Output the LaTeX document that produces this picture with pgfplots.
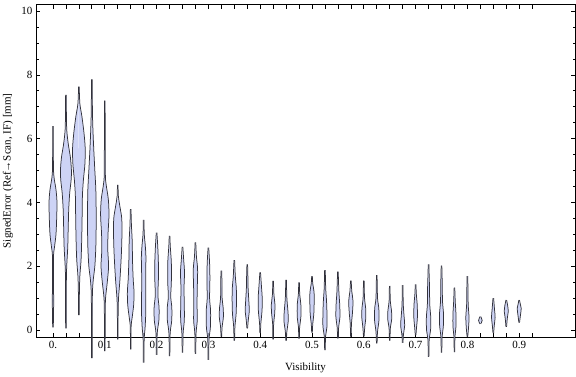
\documentclass[border=0pt]{standalone}
\usepackage{fontspec}
\setmainfont{Liberation Serif}
\usepackage{pgfplots}
\pgfplotsset{compat=1.18}
\usepgfplotslibrary{fillbetween}
\definecolor{vfillc}{RGB}{205,211,245}
\definecolor{voutc}{RGB}{50,50,60}
\pgfplotsset{
  vout/.style={draw=voutc, line width=0.75bp, smooth, tension=0.5, no markers, forget plot},
  vfill/.style={fill=vfillc, draw=none, forget plot},
}
\newcommand\violin[2]{%
  \addplot[vout, name path=R#1] table[row sep=\\, x expr={#1+\thisrow{w}}, y=y] {y w\\#2};
  \addplot[vout, name path=L#1] table[row sep=\\, x expr={#1-\thisrow{w}}, y=y] {y w\\#2};
  \addplot[vfill] fill between[of=R#1 and L#1];
}
\begin{document}
\begin{tikzpicture}[font=\fontsize{11bp}{13bp}\selectfont]
\begin{axis}[name=ax, set layers, scale only axis,
  width=539bp, height=332.3bp,
  xmin=-0.0328, xmax=1.0077, ymin=-0.219, ymax=10.2,
  clip=false,
  axis line style={line width=0.8bp, black},
  tick style={black, line width=0.7bp},
  major tick length=4.2bp, minor tick length=2.5bp,
  tick align=inside,
  xtick={0,0.025,0.05,0.075,0.1,0.125,0.15,0.175,0.2,0.225,0.25,0.275,0.3,0.325,0.35,0.375,0.4,0.425,0.45,0.475,0.5,0.525,0.55,0.575,0.6,0.625,0.65,0.675,0.7,0.725,0.75,0.775,0.8,0.825,0.85,0.875,0.9,0.925},
  xticklabels={0.,{},{},{},0.1,{},{},{},0.2,{},{},{},0.3,{},{},{},0.4,{},{},{},0.5,{},{},{},0.6,{},{},{},0.7,{},{},{},0.8,{},{},{},0.9,{}},
  xticklabel style={yshift=-1bp},
  ytick={0,2,4,6,8,10},
  minor y tick num=3,
  /pgf/number format/assume math mode=true,
  xlabel={Visibility},
  ylabel={SignedError (Ref→Scan, IF) [mm]},
  every axis x label/.style={at={(axis description cs:0.5,-0.0933)}, anchor=center},
  every axis y label/.style={at={(axis description cs:-0.052,0.5)}, anchor=center, rotate=90},
]
\violin{0}{0.08 0.0006\\0.7 0.0012\\0.95 0.0015\\1.3 0.001\\2.3 0.001\\2.6 0.0029\\3.0 0.0058\\3.5 0.0071\\4.0 0.0077\\4.4 0.0058\\4.8 0.0019\\5.2 0.0008\\6.39 0.0006\\}
\violin{0.025}{0.05 0.0006\\1.5 0.0008\\2.0 0.0015\\2.6 0.0035\\3.2 0.0044\\3.8 0.0054\\4.3 0.0073\\4.7 0.010\\5.0 0.0106\\5.4 0.0087\\5.8 0.0048\\6.2 0.0019\\6.6 0.001\\7.37 0.0006\\}
\violin{0.05}{0.47 0.0006\\1.2 0.001\\1.7 0.0019\\2.2 0.0042\\2.8 0.0054\\3.5 0.0062\\4.2 0.0068\\4.7 0.0087\\5.2 0.0116\\5.7 0.0122\\6.2 0.0097\\6.7 0.0058\\7.1 0.0019\\7.63 0.0006\\}
\violin{0.075}{-0.88 0.0006\\0.5 0.0008\\1.2 0.0012\\1.6 0.0029\\2.0 0.0058\\2.6 0.0077\\3.2 0.0083\\3.8 0.0083\\4.4 0.0077\\5.0 0.0058\\5.6 0.0039\\6.2 0.0023\\6.8 0.0012\\7.86 0.0006\\}
\violin{0.1}{-0.66 0.0006\\0.5 0.0008\\1.0 0.0015\\1.5 0.0048\\2.0 0.0073\\2.5 0.0058\\3.0 0.0062\\3.6 0.0081\\4.1 0.0068\\4.6 0.0023\\5.0 0.001\\7.19 0.0006\\}
\violin{0.125}{-0.29 0.0006\\0.6 0.0008\\1.0 0.0015\\1.5 0.0039\\2.0 0.0058\\2.5 0.0073\\3.0 0.0081\\3.5 0.0077\\3.9 0.0039\\4.2 0.0012\\4.55 0.0006\\}
\violin{0.15}{-0.61 0.0006\\0.1 0.0008\\0.4 0.0029\\0.8 0.0058\\1.2 0.0064\\1.6 0.0048\\2.2 0.0035\\2.8 0.0029\\3.3 0.0014\\3.79 0.0006\\}
\violin{0.175}{-1.02 0.0006\\-0.3 0.001\\0.1 0.0029\\0.6 0.0042\\1.2 0.0039\\1.8 0.0039\\2.3 0.0044\\2.7 0.0029\\3.0 0.0012\\3.45 0.0006\\}
\violin{0.2}{-0.78 0.0006\\-0.1 0.0012\\0.3 0.0044\\0.7 0.0048\\1.1 0.0025\\1.6 0.0035\\2.1 0.0035\\2.6 0.0023\\3.05 0.0006\\}
\violin{0.225}{-0.82 0.0006\\-0.1 0.0012\\0.3 0.0042\\0.7 0.0044\\1.05 0.0023\\1.5 0.0035\\2.1 0.0035\\2.6 0.0015\\2.95 0.0006\\}
\violin{0.25}{-0.71 0.0006\\-0.1 0.0012\\0.3 0.0035\\0.8 0.0035\\1.3 0.0029\\1.8 0.0039\\2.2 0.0023\\2.61 0.0006\\}
\violin{0.275}{-0.75 0.0006\\-0.1 0.0012\\0.3 0.0035\\0.8 0.0031\\1.3 0.0035\\1.9 0.0042\\2.3 0.0019\\2.75 0.0006\\}
\violin{0.3}{-0.94 0.0006\\-0.3 0.0012\\0.1 0.0039\\0.6 0.0042\\1.0 0.0023\\1.6 0.0029\\2.1 0.0023\\2.58 0.0006\\}
\violin{0.325}{-0.21 0.0006\\0.1 0.0015\\0.4 0.0039\\0.7 0.0035\\1.0 0.0015\\1.5 0.0012\\1.86 0.0006\\}
\violin{0.35}{-0.33 0.0006\\0.1 0.0012\\0.5 0.0035\\0.9 0.0042\\1.3 0.0039\\1.7 0.0019\\2.19 0.0006\\}
\violin{0.375}{0.05 0.0006\\0.3 0.0019\\0.6 0.0039\\0.9 0.0031\\1.3 0.0017\\1.7 0.0012\\2.06 0.0006\\}
\violin{0.4}{-0.1 0.0006\\0.2 0.0012\\0.6 0.0035\\1.0 0.0039\\1.4 0.0023\\1.81 0.0006\\}
\violin{0.425}{-0.29 0.0006\\0.2 0.001\\0.5 0.0029\\0.8 0.0035\\1.1 0.0015\\1.54 0.0006\\}
\violin{0.45}{-0.33 0.0006\\-0.05 0.0015\\0.3 0.0042\\0.6 0.0035\\1.0 0.0015\\1.57 0.0006\\}
\violin{0.475}{-0.27 0.0006\\0.1 0.0012\\0.4 0.0035\\0.8 0.0035\\1.1 0.0014\\1.49 0.0006\\}
\violin{0.5}{-0.08 0.0006\\0.2 0.0015\\0.5 0.0035\\0.9 0.0042\\1.2 0.0039\\1.45 0.0015\\1.69 0.0006\\}
\violin{0.525}{-0.63 0.0006\\-0.2 0.0012\\0.1 0.0039\\0.5 0.0039\\0.9 0.0031\\1.3 0.0015\\1.88 0.0006\\}
\violin{0.55}{-0.26 0.0006\\0.1 0.0015\\0.4 0.0039\\0.8 0.0035\\1.2 0.0019\\1.83 0.0006\\}
\violin{0.575}{-0.21 0.0006\\0.2 0.0012\\0.5 0.0029\\0.9 0.0042\\1.2 0.0019\\1.55 0.0006\\}
\violin{0.6}{-0.2 0.0006\\0.1 0.0019\\0.4 0.0039\\0.7 0.0035\\1.0 0.0014\\1.55 0.0006\\}
\violin{0.625}{-0.42 0.0006\\-0.05 0.0015\\0.3 0.0042\\0.7 0.0039\\1.0 0.0015\\1.72 0.0006\\}
\violin{0.65}{-0.33 0.0006\\0.05 0.0012\\0.35 0.0039\\0.6 0.0035\\0.9 0.0012\\1.38 0.0006\\}
\violin{0.675}{-0.4 0.0006\\-0.15 0.0015\\0.15 0.0039\\0.4 0.0029\\0.8 0.0012\\1.41 0.0006\\}
\violin{0.7}{-0.16 0.0006\\0.1 0.0019\\0.4 0.0035\\0.8 0.0031\\1.1 0.0015\\1.43 0.0006\\}
\violin{0.725}{-0.84 0.0006\\-0.3 0.0012\\0.0 0.0039\\0.4 0.0042\\0.8 0.0023\\1.3 0.0019\\1.7 0.0012\\2.06 0.0006\\}
\violin{0.75}{-0.71 0.0006\\-0.2 0.0012\\0.1 0.0035\\0.5 0.0039\\0.9 0.0019\\1.4 0.0015\\2.02 0.0006\\}
\violin{0.775}{-0.69 0.0006\\-0.2 0.001\\0.1 0.0029\\0.5 0.0029\\0.9 0.0015\\1.33 0.0006\\}
\violin{0.8}{-0.21 0.0006\\0.1 0.0023\\0.4 0.0031\\0.8 0.0015\\1.2 0.0012\\1.69 0.0006\\}
\violin{0.825}{0.19 0.0006\\0.3 0.0035\\0.42 0.0006\\}
\violin{0.85}{-0.1 0.0006\\0.15 0.0019\\0.4 0.0035\\0.65 0.0023\\1.0 0.0006\\}
\violin{0.875}{0.1 0.0006\\0.35 0.0019\\0.6 0.0039\\0.75 0.0029\\0.94 0.0006\\}
\violin{0.9}{0.23 0.0006\\0.45 0.0023\\0.68 0.0039\\0.8 0.0023\\0.94 0.0006\\}
\end{axis}
\pgfresetboundingbox
\path ([shift={(-36bp,-40bp)}]ax.south west) rectangle ([shift={(1bp,4.7bp)}]ax.north east);
\end{tikzpicture}
\end{document}
